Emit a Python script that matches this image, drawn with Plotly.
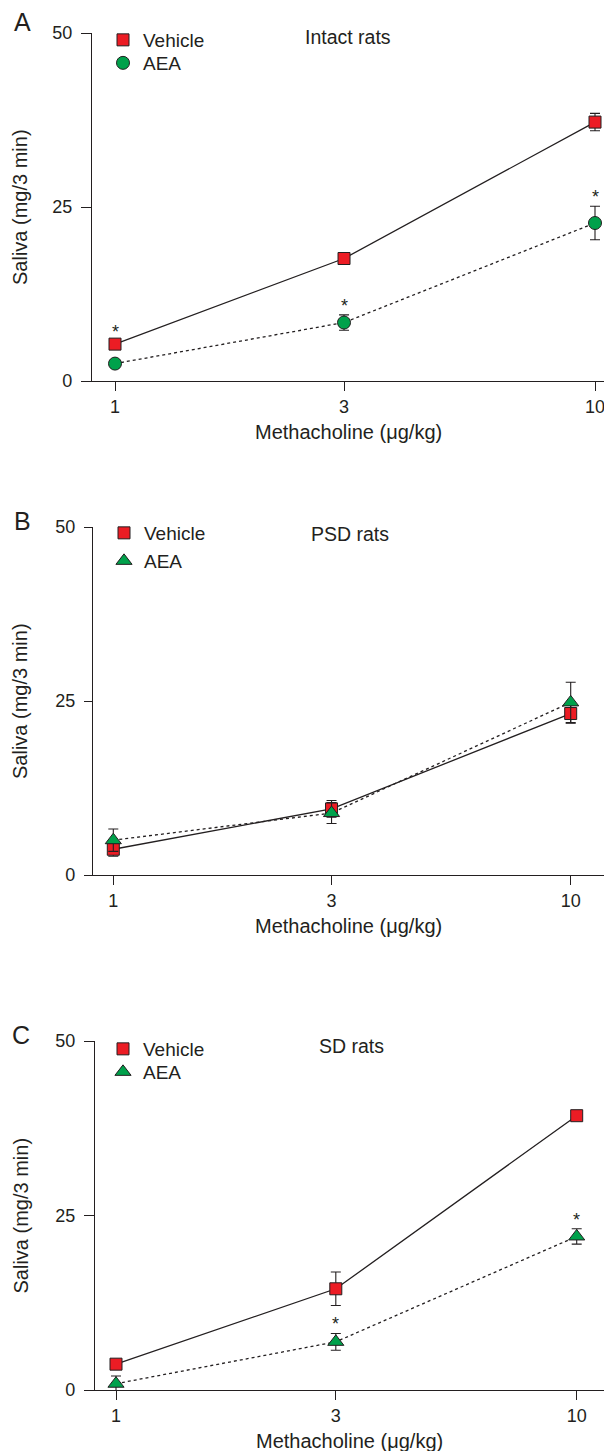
import math
import plotly.graph_objects as go

W, H = 604, 1451

# ---------------- data ----------------
doses = [1, 3, 10]
dose_ticks = [1, 3, 10]
dose_tick_text = ["1", "3", "10"]
saliva_ticks = [0, 25, 50]
saliva_range = [0, 50]

panel_letters = ["A", "B", "C"]
panel_titles = ["Intact rats", "PSD rats", "SD rats"]
series_names = ["Vehicle", "AEA"]
x_title = "Methacholine (μg/kg)"
y_title = "Saliva (mg/3 min)"

intact_vehicle = [5.3, 17.6, 37.2]
intact_vehicle_err = [0.5, 0.5, 1.25]
intact_aea = [2.5, 8.4, 22.7]
intact_aea_err = [0.4, 1.1, 2.4]
intact_star_on = ["Vehicle", "AEA", "AEA"]

psd_vehicle = [3.7, 9.5, 23.2]
psd_vehicle_err = [1.0, 1.2, 1.4]
psd_aea = [5.0, 8.9, 24.8]
psd_aea_err = [1.6, 1.5, 2.9]
psd_star_on = [None, None, None]

sd_vehicle = [3.7, 14.5, 39.3]
sd_vehicle_err = [0.5, 2.4, 0.5]
sd_aea = [0.9, 6.9, 22.0]
sd_aea_err = [1.1, 1.2, 1.1]
sd_star_on = [None, "AEA", "AEA"]

aea_symbols = ["circle", "triangle-up", "triangle-up"]

# ---------------- styling / geometry ----------------
RED = "#EC1C24"
GREEN = "#00A14B"
INK = "#231F20"
FONT = "Liberation Sans, Arial, Helvetica, sans-serif"


def fx(px):
    return px / W


def fy(py):
    return 1 - py / H


geom = [
    dict(left=92, top=33, bottom=381, x1=115.0, dec=480.0, ylen=10,
         leg=[(123, 40), (123, 63)], title=(348, 37), letter=(22, 22),
         xt=432, yt=20),
    dict(left=93, top=527, bottom=875, x1=113.3, dec=457.4, ylen=8,
         leg=[(124, 533), (124, 561)], title=(350, 534), letter=(22, 521),
         xt=926, yt=20),
    dict(left=95, top=1041, bottom=1390, x1=116.0, dec=460.7, ylen=10,
         leg=[(123, 1049), (123, 1072)], title=(351, 1046), letter=(21, 1035),
         xt=1441, yt=20),
]

panels = [
    (intact_vehicle, intact_vehicle_err, intact_aea, intact_aea_err, intact_star_on),
    (psd_vehicle, psd_vehicle_err, psd_aea, psd_aea_err, psd_star_on),
    (sd_vehicle, sd_vehicle_err, sd_aea, sd_aea_err, sd_star_on),
]

fig = go.Figure()
annotations = []
layout = dict(
    width=W, height=H, margin=dict(l=0, r=0, t=0, b=0),
    paper_bgcolor="white", plot_bgcolor="white",
    template="none", showlegend=True,
    font=dict(family=FONT, color=INK, size=18),
)

legend_idx = 0
for i, (veh, veh_e, aea, aea_e, stars) in enumerate(panels):
    g = geom[i]
    sfx = "" if i == 0 else str(i + 1)
    xa, ya = "x" + sfx, "y" + sfx

    # lines
    fig.add_trace(go.Scatter(x=doses, y=veh, mode="lines", xaxis=xa, yaxis=ya,
                             line=dict(color=INK, width=1.3), showlegend=False,
                             hoverinfo="skip"))
    fig.add_trace(go.Scatter(x=doses, y=aea, mode="lines", xaxis=xa, yaxis=ya,
                             line=dict(color=INK, width=1.3, dash="3px,3px"),
                             showlegend=False, hoverinfo="skip"))

    specs = [
        (series_names[0], veh, veh_e, "square", 12, RED),
        (series_names[1], aea, aea_e, aea_symbols[i], 13 if aea_symbols[i] == "circle" else 14, GREEN),
    ]
    for k, (name, vals, errs, sym, size, col) in enumerate(specs):
        legend_idx += 1
        lname = "legend" if legend_idx == 1 else "legend%d" % legend_idx
        fig.add_trace(go.Scatter(
            x=doses, y=vals, mode="markers", name=name, xaxis=xa, yaxis=ya,
            legend=lname, cliponaxis=False,
            marker=dict(symbol=sym, size=size, color=col,
                        line=dict(color=INK, width=1)),
            error_y=dict(type="data", array=errs, visible=True, color=INK,
                         thickness=1.1, width=5),
        ))
        mx, my = g["leg"][k]
        layout[lname] = dict(
            x=fx(mx - 20), xanchor="left", y=fy(my), yanchor="middle",
            bgcolor="rgba(0,0,0,0)", borderwidth=0,
            font=dict(family=FONT, size=19, color=INK),
        )

    # significance stars
    lookup = {series_names[0]: (veh, veh_e), series_names[1]: (aea, aea_e)}
    for j, s in enumerate(stars):
        if s is None:
            continue
        vals, errs = lookup[s]
        annotations.append(dict(
            x=math.log10(doses[j]), y=vals[j] + errs[j], xref=xa, yref=ya,
            text="*", showarrow=False, yanchor="middle", yshift=9,
            font=dict(family=FONT, size=18, color=INK),
        ))

    # axes
    layout["xaxis" + sfx] = dict(
        domain=[fx(g["left"]), 1], anchor=ya, type="log",
        range=[(g["left"] - g["x1"]) / g["dec"], (W - g["x1"]) / g["dec"]],
        tickvals=dose_ticks, ticktext=dose_tick_text,
        ticks="outside", ticklen=9, tickwidth=1.2, tickcolor=INK,
        showline=True, linecolor=INK, linewidth=1.3,
        showgrid=False, zeroline=False, ticklabeloverflow="allow",
        tickfont=dict(family=FONT, size=18, color=INK),
    )
    layout["yaxis" + sfx] = dict(
        domain=[fy(g["bottom"]), fy(g["top"])], anchor=xa,
        range=saliva_range, tickvals=saliva_ticks,
        ticks="outside", ticklen=g["ylen"], tickwidth=1.2, tickcolor=INK,
        showline=True, linecolor=INK, linewidth=1.3,
        showgrid=False, zeroline=False, ticklabelstandoff=5,
        tickfont=dict(family=FONT, size=18, color=INK),
    )

    # axis titles
    annotations.append(dict(x=(fx(g["left"]) + 1) / 2, y=fy(g["xt"]),
                            xref="paper", yref="paper", text=x_title,
                            showarrow=False, xanchor="center", yanchor="middle",
                            font=dict(family=FONT, size=20, color=INK)))
    annotations.append(dict(x=fx(g["yt"]), y=(fy(g["bottom"]) + fy(g["top"])) / 2,
                            xref="paper", yref="paper", text=y_title,
                            textangle=-90, showarrow=False,
                            xanchor="center", yanchor="middle",
                            font=dict(family=FONT, size=20, color=INK)))

    # panel title and letter
    tx, ty = g["title"]
    annotations.append(dict(x=fx(tx), y=fy(ty), xref="paper", yref="paper",
                            text=panel_titles[i], showarrow=False,
                            xanchor="center", yanchor="middle",
                            font=dict(family=FONT, size=19.5, color=INK)))
    lx, ly = g["letter"]
    annotations.append(dict(x=fx(lx), y=fy(ly), xref="paper", yref="paper",
                            text=panel_letters[i], showarrow=False,
                            xanchor="center", yanchor="middle",
                            font=dict(family=FONT, size=25, color=INK)))

layout["annotations"] = annotations
fig.update_layout(**layout)
fig.write_html(
    "out.html",
    config={"displayModeBar": False},
    post_script=(
        "document.documentElement.style.overflow='hidden';"
        "document.body.style.margin='0px';"
        "document.body.style.overflow='hidden';"
    ),
)
